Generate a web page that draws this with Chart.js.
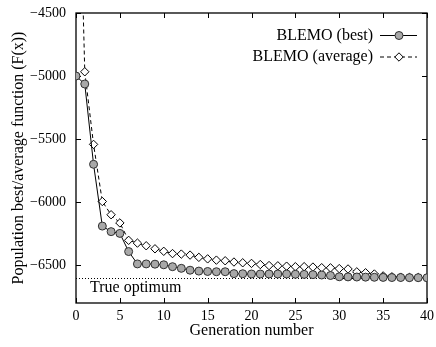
<!DOCTYPE html>
<html>
<head>
<meta charset="utf-8">
<script src="https://cdn.jsdelivr.net/npm/chart.js@4"></script>
<style>
html,body{margin:0;padding:0;background:#fff;}
#wrap{width:436px;height:347px;}
</style>
</head>
<body>
<div id="wrap"><canvas id="c" width="436" height="347"></canvas></div>
<script>
const generations = [0,1,2,3,4,5,6,7,8,9,10,11,12,13,14,15,16,17,18,19,20,21,22,23,24,25,26,27,28,29,30,31,32,33,34,35,36,37,38,39,40];
const bestValues = [-5000,-5063,-5700,-6190,-6234,-6248,-6392,-6490,-6490,-6492,-6497,-6512,-6525,-6540,-6547,-6550,-6552,-6552,-6567,-6568,-6570,-6570,-6570,-6570,-6570,-6572,-6573,-6575,-6578,-6582,-6592,-6593,-6594,-6595,-6596,-6597,-6598,-6598,-6599,-6599,-6600];
const averageValues = [-2300,-4966,-5542,-5995,-6100,-6165,-6303,-6325,-6346,-6370,-6390,-6408,-6412,-6420,-6438,-6450,-6460,-6465,-6475,-6481,-6486,-6495,-6503,-6505,-6508,-6512,-6512,-6515,-6520,-6521,-6527,-6530,-6553,-6560,-6570,-6585,-6592,-6595,-6597,-6598,-6599];
const xTickValues = [0,5,10,15,20,25,30,35,40];
const yTickValues = [-6500,-6000,-5500,-5000,-4500];
const trueOptimum = -6600;
const seriesLabels = ['BLEMO (best)','BLEMO (average)'];

const FONT = "'Liberation Serif', 'DejaVu Serif', serif";

const framePlugin = {
  id: 'frame',
  beforeDatasetsDraw(chart) {
    const {ctx, chartArea: a, scales: {x, y}} = chart;
    ctx.save();
    const yo = y.getPixelForValue(trueOptimum);
    ctx.strokeStyle = '#000';
    ctx.lineWidth = 1;
    ctx.setLineDash([1, 2]);
    ctx.beginPath();
    ctx.moveTo(a.left, Math.round(yo) + 0.5);
    ctx.lineTo(a.right, Math.round(yo) + 0.5);
    ctx.stroke();
    ctx.setLineDash([]);
    ctx.fillStyle = '#000';
    ctx.font = '16px ' + FONT;
    ctx.textAlign = 'left';
    ctx.textBaseline = 'middle';
    ctx.fillText('True optimum', a.left + 14, yo + 10);
    ctx.lineWidth = 1.3;
    ctx.strokeRect(a.left, a.top, a.right - a.left, a.bottom - a.top);
    const tl = 5;
    ctx.lineWidth = 1;
    ctx.beginPath();
    xTickValues.forEach(v => {
      const px = Math.round(x.getPixelForValue(v)) + 0.5;
      ctx.moveTo(px, a.bottom); ctx.lineTo(px, a.bottom - tl);
      ctx.moveTo(px, a.top); ctx.lineTo(px, a.top + tl);
    });
    yTickValues.forEach(v => {
      const py = Math.round(y.getPixelForValue(v)) + 0.5;
      ctx.moveTo(a.left, py); ctx.lineTo(a.left + tl, py);
      ctx.moveTo(a.right, py); ctx.lineTo(a.right - tl, py);
    });
    ctx.stroke();
    ctx.restore();
  },
  afterDraw(chart) {
    const {ctx} = chart;
    ctx.save();
    ctx.font = '16px ' + FONT;
    ctx.textAlign = 'right';
    ctx.textBaseline = 'middle';
    const textRight = 373, lx0 = 380, lx1 = 417, mx = 399;
    const rows = [35.5, 57];
    chart.data.datasets.forEach((ds, i) => {
      const yy = rows[i];
      ctx.fillStyle = '#000';
      ctx.fillText(ds.label, textRight, yy);
      ctx.strokeStyle = '#000';
      ctx.lineWidth = 1;
      ctx.setLineDash(ds.borderDash || []);
      ctx.beginPath();
      ctx.moveTo(lx0, yy); ctx.lineTo(lx1, yy);
      ctx.stroke();
      ctx.setLineDash([]);
      ctx.fillStyle = ds.pointBackgroundColor;
      ctx.strokeStyle = ds.pointBorderColor;
      ctx.lineWidth = ds.pointBorderWidth;
      Chart.helpers.drawPoint(ctx, {pointStyle: ds.pointStyle, radius: ds.pointRadius, borderWidth: ds.pointBorderWidth, rotation: 0}, mx, yy);
    });
    ctx.restore();
  }
};

const toMinus = v => String(v).replace('-', '\u2212');

new Chart(document.getElementById('c'), {
  type: 'line',
  data: {
    datasets: [
      {
        label: seriesLabels[0],
        data: generations.map((g, i) => ({x: g, y: bestValues[i]})),
        borderColor: '#000',
        borderWidth: 1,
        pointStyle: 'circle',
        pointRadius: 4,
        pointBorderWidth: 1,
        pointBackgroundColor: '#a8a8a8',
        pointBorderColor: '#303030',
        tension: 0,
        order: 0
      },
      {
        label: seriesLabels[1],
        data: generations.map((g, i) => ({x: g, y: averageValues[i]})),
        borderColor: '#000',
        borderWidth: 1,
        borderDash: [4, 3],
        pointStyle: 'rectRot',
        pointRadius: 4.2,
        pointBorderWidth: 1,
        pointBackgroundColor: '#ffffff',
        pointBorderColor: '#000',
        tension: 0,
        clip: 0,
        order: 1
      }
    ]
  },
  options: {
    responsive: false,
    animation: false,
    devicePixelRatio: 1,
    layout: {padding: {left: 0, right: 9, top: 13, bottom: 0}},
    plugins: {legend: {display: false}, tooltip: {enabled: false}},
    scales: {
      x: {
        type: 'linear', min: 0, max: 40,
        grid: {display: false, drawTicks: false},
        border: {display: false},
        afterBuildTicks: s => { s.ticks = xTickValues.map(v => ({value: v})); },
        afterFit: s => { s.height = 44; s.paddingLeft = 0; s.paddingRight = 0; },
        ticks: {color: '#000', font: {family: FONT, size: 14}, padding: 5, maxRotation: 0, autoSkip: false},
        title: {display: true, text: 'Generation number', color: '#000', font: {family: FONT, size: 16}, padding: {top: 0, bottom: 7}}
      },
      y: {
        type: 'linear', min: -6800, max: -4500,
        grid: {display: false, drawTicks: false},
        border: {display: false},
        afterBuildTicks: s => { s.ticks = yTickValues.map(v => ({value: v})); },
        afterFit: s => { s.width = 76; s.paddingTop = 0; s.paddingBottom = 0; },
        ticks: {color: '#000', font: {family: FONT, size: 14}, padding: 10, autoSkip: false, callback: v => toMinus(v)},
        title: {display: true, text: 'Population best/average function (F(x))', color: '#000', font: {family: FONT, size: 16}, padding: {top: 9, bottom: 0}}
      }
    }
  },
  plugins: [framePlugin]
});
</script>
</body>
</html>
